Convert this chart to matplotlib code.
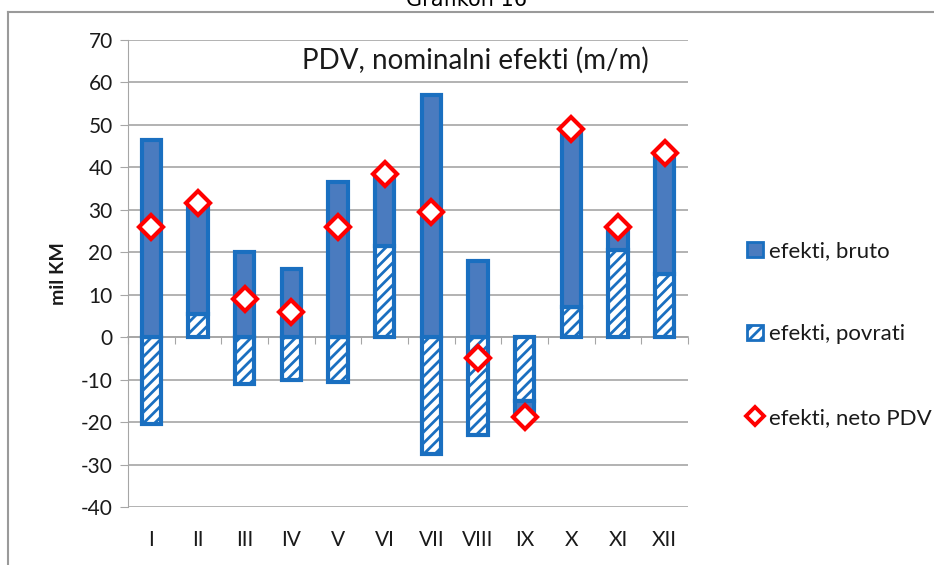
import matplotlib.pyplot as plt
import numpy as np
from matplotlib.lines import Line2D
from matplotlib.patches import Patch
from matplotlib.transforms import blended_transform_factory

plt.rcParams['font.family'] = ['Lato', 'DejaVu Sans']
plt.rcParams['hatch.linewidth'] = 2.0
plt.rcParams['axes.unicode_minus'] = False

# monthly data (mil KM)
months = ["I", "II", "III", "IV", "V", "VI", "VII", "VIII", "IX", "X", "XI", "XII"]
povrati = [-20.5, 5.5, -11, -10, -10.5, 21.5, -27.5, -23, -15, 7, 20.5, 15]
bruto = [46.5, 26, 20, 16, 36.5, 17, 57, 18, -3.8, 42, 5.5, 28.5]
neto = [26, 31.5, 9, 6, 26, 38.5, 29.5, -5, -18.8, 49, 26, 43.5]

face = "#4a7bbf"
edge = "#1a6fc0"
grid_c = "#a6a6a6"
txt_c = "#1a1a1a"

x = np.arange(len(months))
pov = np.array(povrati)
bru = np.array(bruto)
# stack like excel: same sign goes on top of povrati, otherwise from zero
bottom = np.where(np.sign(pov) == np.sign(bru), pov, 0)

fig = plt.figure(figsize=(9.34, 5.65), dpi=100)
ax = fig.add_axes([128/934, 58/565, 560/934, 467/565])

w = 0.42
ax.bar(x, pov, w, color="white", edgecolor=edge, hatch="///", linewidth=3, zorder=3)
ax.bar(x, bru, w, bottom=bottom, color=face, edgecolor=edge, linewidth=3, zorder=3)
ax.plot(x, neto, linestyle="none", marker="D", markersize=12, markerfacecolor="white",
        markeredgecolor="#ff0000", markeredgewidth=3, zorder=4)

ax.set_ylim(-40, 70)
ax.set_xlim(-0.5, 11.5)
ax.set_yticks(np.arange(-40, 71, 10))
ax.yaxis.grid(True, color=grid_c, linewidth=1.2)
ax.set_axisbelow(True)
ax.tick_params(axis="y", labelsize=15, length=6, color=grid_c, pad=5, labelcolor=txt_c)
ax.set_ylabel("mil KM", fontsize=14, fontweight="bold", labelpad=10, color=txt_c)

for s in ["top", "right"]:
    ax.spines[s].set_visible(False)
ax.spines["left"].set_color(grid_c)
ax.spines["bottom"].set_position(("data", 0))
ax.spines["bottom"].set_color(grid_c)
ax.spines["bottom"].set_linewidth(1.2)
ax.set_xticks(np.arange(-0.5, 12, 1))
ax.set_xticklabels([])
ax.tick_params(axis="x", length=5, color=grid_c, direction="out")

trans = blended_transform_factory(ax.transData, ax.transAxes)
for i, m in enumerate(months):
    ax.text(i, -0.07, m, transform=trans, ha="center", va="center", fontsize=15, color=txt_c)

ax.text(0.621, 0.985, "PDV, nominalni efekti (m/m)", transform=ax.transAxes,
        ha="center", va="top", fontsize=20, color=txt_c)

handles = [
    Patch(facecolor=face, edgecolor=edge, linewidth=2),
    Patch(facecolor="white", edgecolor=edge, hatch="///", linewidth=2),
    Line2D([], [], linestyle="none", marker="D", markersize=9, markerfacecolor="white",
           markeredgecolor="#ff0000", markeredgewidth=2.8),
]
fig.legend(handles, ["efekti, bruto", "efekti, povrati", "efekti, neto PDV"],
           loc="upper left", bbox_to_anchor=(736/934, 1 - 230/565), frameon=False,
           fontsize=16, handlelength=0.7, handleheight=0.7, handletextpad=0.3,
           labelspacing=2.85, borderpad=0, labelcolor=txt_c)

# outer chart frame and cut-off caption
fig.add_artist(Line2D([8/934, 8/934], [0, 1 - 12/565], color="#9a9a9a", linewidth=1.5))
fig.add_artist(Line2D([8/934, 1], [1 - 12/565, 1 - 12/565], color="#9a9a9a", linewidth=1.5))
fig.text(0.5, 1.0, "Grafikon 16", ha="center", va="center", fontsize=15, family="DejaVu Sans")

fig.savefig("out.png", dpi=100)
plt.close(fig)
